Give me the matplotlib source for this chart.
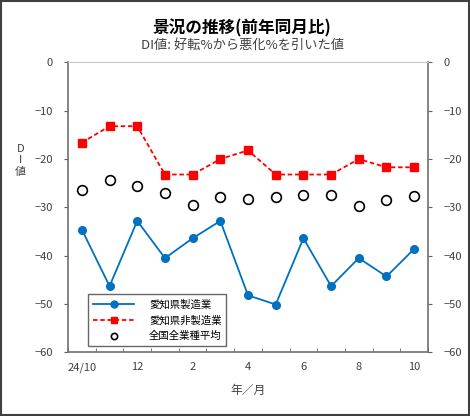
import numpy as np
import matplotlib.pyplot as plt
from matplotlib.patches import Rectangle

plt.rcParams['font.family'] = ['Noto Sans CJK JP', 'DejaVu Sans']

months = ['24/10', '11', '12', '1', '2', '3', '4', '5', '6', '7', '8', '9', '10']
tick_labels = ['24/10', '', '12', '', '2', '', '4', '', '6', '', '8', '', '10']
aichi_mfg = [-34.6, -46.3, -32.8, -40.5, -36.4, -32.8, -48.2, -50.1, -36.4, -46.3, -40.5, -44.3, -38.6]
aichi_nonmfg = [-16.6, -13.2, -13.2, -23.2, -23.2, -20.0, -18.2, -23.2, -23.2, -23.2, -20.0, -21.7, -21.7]
national_avg = [-26.4, -24.4, -25.6, -27.0, -29.5, -27.8, -28.3, -27.8, -27.5, -27.5, -29.8, -28.4, -27.7]

fig = plt.figure(figsize=(4.7, 4.16), dpi=100)
ax = fig.add_axes([0.1447, 0.153, 0.766, 0.697])
x = np.arange(len(months))

ax.plot(x, aichi_mfg, color='#0070C0', marker='o', markersize=5.5, linewidth=1.3, label='愛知県製造業')
ax.plot(x, aichi_nonmfg, color='#FF0000', marker='s', markersize=5.5, linewidth=1.3,
        linestyle=(0, (2.5, 1.5)), label='愛知県非製造業')
ax.plot(x, national_avg, color='black', marker='o', markersize=7, markerfacecolor='white',
        markeredgewidth=1.2, linestyle='none', label='全国全業種平均')

ax.set_xlim(-0.5, len(months) - 0.5)
ax.set_ylim(-60, 0)
ax.set_yticks(np.arange(-60, 1, 10))
ax.set_xticks(x)
ax.set_xticklabels(tick_labels)
ax.set_xticks(np.arange(-0.5, len(months), 1), minor=True)
ax.tick_params(axis='x', which='major', length=0, pad=7, labelsize=8, labelcolor='#404040')
ax.tick_params(axis='x', which='minor', direction='in', length=3, color='#606060')
ax.tick_params(axis='y', direction='out', length=3, labelsize=8, labelcolor='#404040',
               color='#606060', left=True, right=True, labelleft=True, labelright=True, pad=8)

for side in ['left', 'right', 'bottom']:
    ax.spines[side].set_color('#707070')
    ax.spines[side].set_linewidth(1.2)
ax.spines['top'].set_color('#C8C8C8')

ax.set_xlabel('年／月', fontsize=8.5, color='#404040', labelpad=8)
fig.text(0.043, 0.615, 'D\nI\n値', fontsize=8, color='#404040', ha='center', va='center', linespacing=1.2)

fig.text(0.515, 0.932, '景況の推移(前年同月比)', fontsize=12, fontweight='bold', ha='center', va='center')
fig.text(0.515, 0.891, 'DI値: 好転%から悪化%を引いた値', fontsize=9.5, color='#404040', ha='center', va='center')

leg = ax.legend(loc='lower left', bbox_to_anchor=(0.05, 0.015), fontsize=7.5, frameon=True,
                fancybox=False, edgecolor='#404040', borderpad=0.45, handlelength=4.0,
                labelspacing=0.55, handletextpad=1.4, borderaxespad=0.2)
leg.get_frame().set_linewidth(1.0)
for h, ms in zip(leg.legend_handles, [5, 5, 4.5]):
    h.set_markersize(ms)

fig.patches.append(Rectangle((0.002, 0.002), 0.996, 0.996, transform=fig.transFigure,
                             fill=False, edgecolor='#404040', linewidth=1.5))

fig.savefig('out.png', dpi=100)
